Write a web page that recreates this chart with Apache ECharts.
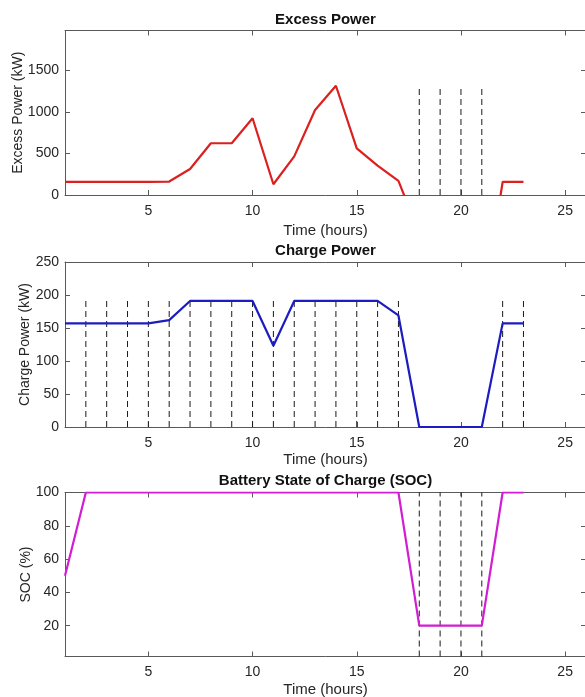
<!DOCTYPE html>
<html><head><meta charset="utf-8">
<script src="https://cdn.jsdelivr.net/npm/echarts@6/dist/echarts.min.js"></script>
<style>html,body{margin:0;padding:0;background:#fff}#c{width:585px;height:697px}</style>
</head><body><div id="c"></div>
<script>
// ---- data ----
const hours = [1,2,3,4,5,6,7,8,9,10,11,12,13,14,15,16,17,18,19,20,21,22,23];
const excessPower = [157,157,157,157,157,162,313,623,623,924,129,465,1024,1315,562,353,169,-460,-800,-1100,-1440,157,157];
const chargePower = [157,157,157,157,157,162,191,191,191,191,123,191,191,191,191,191,169,0,0,0,0,157,157];
const soc = [50,100,100,100,100,100,100,100,100,100,100,100,100,100,100,100,100,20,20,20,20,100,100];
const excessDashX = [18,19,20,21];
const excessDashTop = 1315;
const chargeDashX = [2,3,4,5,6,7,8,9,10,11,12,13,14,15,16,17,22,23];
const chargeDashTop = 193;
const socDashX = [18,19,20,21];
const socDashTop = 100;
const xTicks = [5,10,15,20,25];
const excessTicks = [0,500,1000,1500];
const chargeTicks = [0,50,100,150,200,250];
const socTicks = [20,40,60,80,100];
const xRange = [1,26];
const excessRange = [0,1980];
const chargeRange = [0,250];
const socRange = [1.5,100];
const titles = ['Excess Power','Charge Power','Battery State of Charge (SOC)'];
const yNames = ['Excess Power (kW)','Charge Power (kW)','SOC (%)'];
const xName = 'Time (hours)';

// ---- styling / layout ----
const FONT = "'Liberation Sans', Arial, Helvetica, sans-serif";
const AXIS = '#595959', TEXT = '#262626';
const grids = [
  {left:65, width:521, top:30.5, height:164.5, outerBoundsMode:'none', containLabel:false},
  {left:65, width:521, top:262, height:165, outerBoundsMode:'none', containLabel:false},
  {left:65, width:521, top:492.5, height:164, outerBoundsMode:'none', containLabel:false}
];
const titleY = [20, 251, 481];
const yNameGap = [40, 33, 32];
const xNameGap = [28, 25, 26];
const colors = ['#dc1f1f', '#1c1cc0', '#d21ed2'];
const panels = [
  {vals: excessPower, yr: excessRange, yt: excessTicks, dx: excessDashX, dTop: excessDashTop},
  {vals: chargePower, yr: chargeRange, yt: chargeTicks, dx: chargeDashX, dTop: chargeDashTop},
  {vals: soc, yr: socRange, yt: socTicks, dx: socDashX, dTop: socDashTop}
];

const xAxis = [], yAxis = [], series = [], graphic = [];
const lineSt = {color: AXIS, width: 1};
const plain = v => String(v);
panels.forEach((p, i) => {
  xAxis.push({
    gridIndex: i, type: 'value', min: xRange[0], max: xRange[1], position: 'bottom',
    name: xName, nameLocation: 'middle', nameGap: xNameGap[i], nameMoveOverlap: false,
    nameTextStyle: {fontSize: 15, color: TEXT, fontFamily: FONT},
    axisLine: {show: true, onZero: false, lineStyle: lineSt},
    axisTick: {show: true, inside: true, length: 5, customValues: xTicks, lineStyle: lineSt},
    axisLabel: {customValues: xTicks, margin: 9, fontSize: 14, color: TEXT, fontFamily: FONT, formatter: plain},
    splitLine: {show: false}
  });
  xAxis.push({
    gridIndex: i, type: 'value', min: xRange[0], max: xRange[1], position: 'top',
    axisLine: {show: true, onZero: false, lineStyle: lineSt},
    axisTick: {show: true, inside: true, length: 5, customValues: xTicks, lineStyle: lineSt},
    axisLabel: {show: false}, splitLine: {show: false}
  });
  yAxis.push({
    gridIndex: i, type: 'value', min: p.yr[0], max: p.yr[1], position: 'left',
    name: yNames[i], nameLocation: 'middle', nameGap: yNameGap[i], nameRotate: 90, nameMoveOverlap: false,
    nameTextStyle: {fontSize: 14, color: TEXT, fontFamily: FONT},
    axisLine: {show: true, onZero: false, lineStyle: lineSt},
    axisTick: {show: true, inside: true, length: 5, customValues: p.yt, lineStyle: lineSt},
    axisLabel: {customValues: p.yt, margin: 6, fontSize: 14, color: TEXT, fontFamily: FONT, formatter: plain},
    splitLine: {show: false}
  });
  yAxis.push({
    gridIndex: i, type: 'value', min: p.yr[0], max: p.yr[1], position: 'right',
    axisLine: {show: true, onZero: false, lineStyle: lineSt},
    axisTick: {show: true, inside: true, length: 5, customValues: p.yt, lineStyle: lineSt},
    axisLabel: {show: false}, splitLine: {show: false}
  });
  p.dx.forEach(x => {
    series.push({
      type: 'line', xAxisIndex: 2*i, yAxisIndex: 2*i, symbol: 'none', silent: true, z: 1,
      data: [[x, p.yr[0]], [x, p.dTop]],
      lineStyle: {color: '#1a1a1a', width: 1, type: [6, 4]}
    });
  });
  series.push({
    type: 'line', xAxisIndex: 2*i, yAxisIndex: 2*i, symbol: 'none', z: 3, clip: true,
    data: hours.map((h, k) => [h, p.vals[k]]),
    lineStyle: {color: colors[i], width: 2.2}
  });
  graphic.push({
    type: 'text', x: grids[i].left + grids[i].width/2, y: titleY[i],
    style: {text: titles[i], fill: '#111', font: 'bold 15px ' + FONT, align: 'center', verticalAlign: 'middle'}
  });
});

const chart = echarts.init(document.getElementById('c'), null, {renderer: 'canvas'});
chart.setOption({
  animation: false,
  backgroundColor: '#fff',
  grid: grids,
  xAxis, yAxis, series, graphic
});
</script>
</body></html>
